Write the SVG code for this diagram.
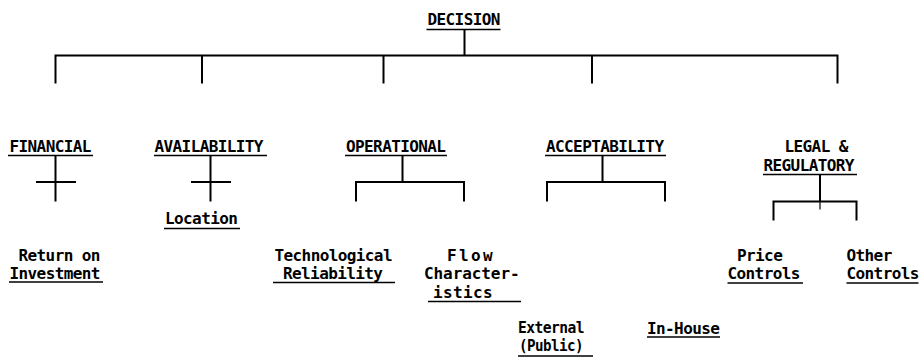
<svg xmlns="http://www.w3.org/2000/svg" width="921" height="358" viewBox="0 0 921 358">
<style>
text{font-family:"DejaVu Sans Mono","Liberation Mono",monospace;font-weight:bold;font-size:16px;letter-spacing:-0.6px;fill:#000}
.u{stroke:#000;stroke-width:1.6;fill:none}
.c{stroke:#000;stroke-width:2;fill:none;stroke-linecap:square}
</style>
<rect width="921" height="358" fill="#fff"/>
<g id="connectors" class="c">
<path d="M464.5 30V55.5M55.5 55.5H837.5M55.5 55.5V82.5M202 55.5V82.5M383.5 55.5V82.5M592 55.5V82.5M837.5 55.5V82.5"/>
<path d="M55.5 156V200.5M37 182H75"/>
<path d="M210.5 156V200.5M192 182H230"/>
<path d="M402.5 156V182M356 182H464M356 182V200.5M464 182V200.5"/>
<path d="M602.5 156V182M547 182H665M547 182V200.5M665 182V200.5"/>
<path d="M820 175V201.5M773.5 201.5H856.5M773.5 201.5V219.5M856.5 201.5V219.5"/>
<path d="M820 201.5V209" stroke-width="1.2"/>
</g>
<g id="decision">
<text x="427.5" y="25">DECISION</text>
<line class="u" x1="426.5" y1="29.5" x2="500.5" y2="29.5"/>
</g>
<g id="financial">
<text x="9.5" y="152">FINANCIAL</text>
<line class="u" x1="8" y1="155.5" x2="93" y2="155.5"/>
</g>
<g id="availability">
<text x="154.5" y="152">AVAILABILITY</text>
<line class="u" x1="154" y1="155.5" x2="267" y2="155.5"/>
</g>
<g id="operational">
<text x="346" y="152">OPERATIONAL</text>
<line class="u" x1="345" y1="155.5" x2="447" y2="155.5"/>
</g>
<g id="acceptability">
<text x="546" y="152">ACCEPTABILITY</text>
<line class="u" x1="545" y1="155.5" x2="666" y2="155.5"/>
</g>
<g id="legal">
<text x="784.5" y="152">LEGAL &amp;</text>
<text x="763.5" y="171">REGULATORY</text>
<line class="u" x1="763" y1="174.5" x2="857" y2="174.5"/>
</g>
<g id="location">
<text x="165" y="224">Location</text>
<line class="u" x1="164" y1="228.5" x2="240" y2="228.5"/>
</g>
<g id="return">
<text x="18.5" y="261">Return on</text>
<text x="9.5" y="278.5">Investment</text>
<line class="u" x1="9" y1="282" x2="103" y2="282"/>
</g>
<g id="technological">
<text x="274.5" y="261">Technological</text>
<text x="283" y="278.5">Reliability</text>
<line class="u" x1="273" y1="282.5" x2="395" y2="282.5"/>
</g>
<g id="flow">
<text x="447" y="261" textLength="45" lengthAdjust="spacing">Flow</text>
<text x="424" y="278.5" textLength="95" lengthAdjust="spacing">Character-</text>
<text x="433" y="297.5" textLength="59" lengthAdjust="spacing">istics</text>
<line class="u" x1="428" y1="301.5" x2="521" y2="301.5"/>
</g>
<g id="external">
<text x="518" y="333" textLength="66" lengthAdjust="spacingAndGlyphs">External</text>
<text x="519" y="350.5" textLength="64" lengthAdjust="spacingAndGlyphs">(Public)</text>
<line class="u" x1="518" y1="356" x2="593" y2="356"/>
</g>
<g id="inhouse">
<text x="647" y="334">In-House</text>
<line class="u" x1="647" y1="337" x2="720" y2="337"/>
</g>
<g id="price">
<text x="737" y="261">Price</text>
<text x="727.5" y="278.5">Controls</text>
<line class="u" x1="727.5" y1="283" x2="803" y2="283"/>
</g>
<g id="other">
<text x="846.5" y="261">Other</text>
<text x="846.5" y="278.5">Controls</text>
<line class="u" x1="846.5" y1="283" x2="918.5" y2="283"/>
</g>
</svg>
